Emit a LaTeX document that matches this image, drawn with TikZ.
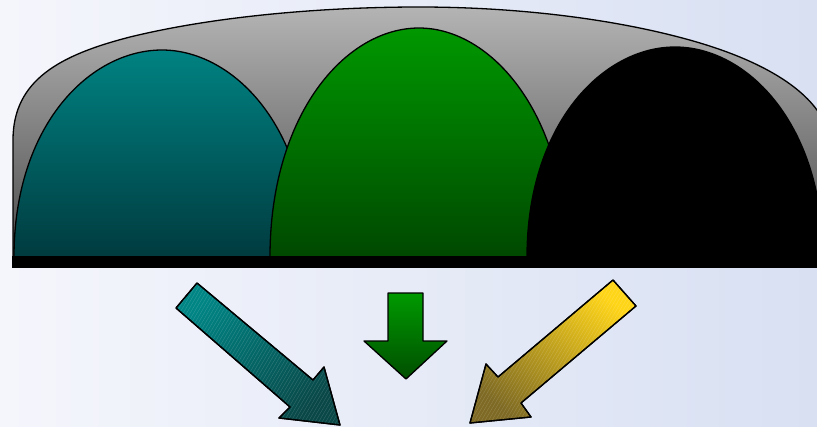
\documentclass[tikz,border=0pt]{standalone}
\definecolor{bgL}{HTML}{F5F6FC}
\definecolor{bgR}{HTML}{D8E0F2}
\definecolor{domeT}{HTML}{B4B4B4}
\definecolor{domeM}{HTML}{9A9A9A}
\definecolor{domeB}{HTML}{4C4C4C}
\definecolor{tealT}{HTML}{008282}
\definecolor{tealB}{HTML}{003B3F}
\definecolor{grnT}{HTML}{009800}
\definecolor{grnB}{HTML}{004800}
\definecolor{arTealL}{HTML}{008585}
\definecolor{arTealD}{HTML}{0A4747}
\definecolor{arGrnT}{HTML}{009A00}
\definecolor{arGrnB}{HTML}{004E00}
\definecolor{arYelL}{HTML}{FFD518}
\definecolor{arYelD}{HTML}{7E6A24}
\begin{document}
\begin{tikzpicture}[x=1pt,y=-1pt,
  outl/.style={draw=black, line width=1.3pt, line join=round},
  hatch/.style={white, opacity=0.18, line width=0.35pt}]
\useasboundingbox (0,0) rectangle (817,426);
\shade[left color=bgL, right color=bgR] (0,0) rectangle (817,426);
\begin{scope}
\clip (0,0) rectangle (817,426);
% gray dome
\shade[outl, top color=domeT, middle color=domeM, bottom color=domeB]
  (13,257) -- (13,140) .. controls (13,80) and (60,55) .. (130,37)
  .. controls (220,15) and (330,7) .. (419,7)
  .. controls (530,7) and (630,22) .. (700,43)
  .. controls (750,58) and (795,80) .. (817,110)
  .. controls (826,122) and (832,136) .. (834,150) -- (834,257) -- cycle;
% teal arch
\shade[outl, top color=tealT, bottom color=tealB]
  (14,257) .. controls (14,125) and (90,50) .. (162,50)
  .. controls (232,50) and (308,125) .. (308,257) -- cycle;
% green arch
\shade[outl, top color=grnT, bottom color=grnB]
  (270,257) .. controls (270,115) and (345,28) .. (419,28)
  .. controls (492,28) and (567,115) .. (567,257) -- cycle;
% black arch
\fill[outl, fill=black]
  (527,257) .. controls (527,125) and (602,47) .. (675,47)
  .. controls (748,47) and (823,125) .. (823,257) -- cycle;
% base bar
\fill[black] (12,256) rectangle (820,268);
\end{scope}
% teal arrow
\shade[outl, top color=arTealL, bottom color=arTealD, shading angle=40]
  (197,283) -- (313,380) -- (324,367) -- (340,425) -- (279,418) -- (290,407) -- (176,308) -- cycle;
\begin{scope}
\clip (197,283) -- (313,380) -- (324,367) -- (340,425) -- (279,418) -- (290,407) -- (176,308) -- cycle;
\foreach \i in {0,3.5,...,420} \draw[hatch] (\i,440) -- ++(100,-170);
\end{scope}
\draw[outl] (197,283) -- (313,380) -- (324,367) -- (340,425) -- (279,418) -- (290,407) -- (176,308) -- cycle;
% green arrow
\shade[outl, top color=arGrnT, bottom color=arGrnB]
  (388,293) -- (423,293) -- (423,341) -- (447,341) -- (406,379) -- (364,341) -- (388,341) -- cycle;
% yellow arrow
\shade[outl, top color=arYelL, bottom color=arYelD, shading angle=-40]
  (613,280) -- (636,306) -- (521,403) -- (531,417) -- (470,423) -- (486,364) -- (498,377) -- cycle;
\begin{scope}
\clip (613,280) -- (636,306) -- (521,403) -- (531,417) -- (470,423) -- (486,364) -- (498,377) -- cycle;
\foreach \i in {400,403.5,...,700} \draw[hatch] (\i,440) -- ++(100,-170);
\end{scope}
\draw[outl] (613,280) -- (636,306) -- (521,403) -- (531,417) -- (470,423) -- (486,364) -- (498,377) -- cycle;
\end{tikzpicture}
\end{document}
